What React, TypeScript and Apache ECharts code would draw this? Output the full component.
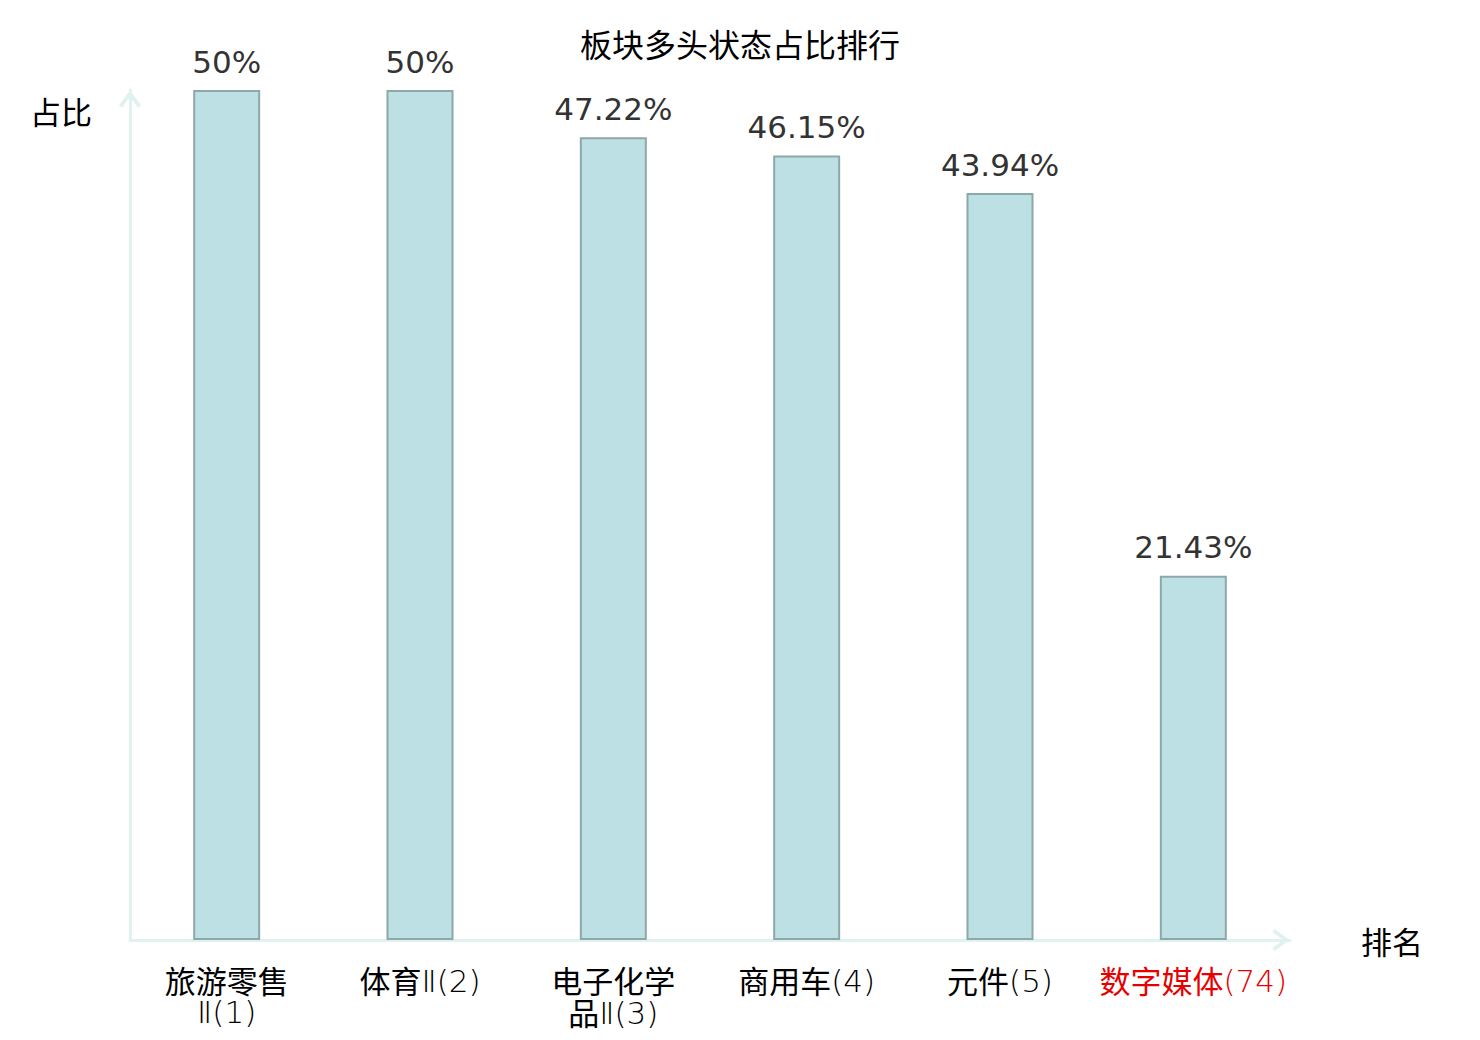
import React, { useEffect, useRef } from "react";
import * as echarts from "echarts";

const chartTitle = "板块多头状态占比排行";
const categories = ["旅游零售Ⅱ(1)", "体育Ⅱ(2)", "电子化学品Ⅱ(3)", "商用车(4)", "元件(5)", "数字媒体(74)"];
const values = [50, 50, 47.22, 46.15, 43.94, 21.43];
const highlighted = ["数字媒体(74)"];
const xName = "排名";
const yName = "占比";

const CJK = "'Noto Sans CJK SC', 'Noto Sans', sans-serif";
const LIGHT_FONT = "'DejaVu Sans', sans-serif";
const AXIS_COLOR = "#dff2ef";
const ARROW = "path://M11,0 L22,15 L19,17.5 L11,6.5 L3,17.5 L0,15 Z";
const LABEL_SIZE = 31;
const LABEL_LH = 32;

function wrapName(name: string): string {
  const idx = name.indexOf("(");
  const base = idx >= 0 ? name.slice(0, idx) : name;
  if (base.length > 4) return name.slice(0, 4) + "\n" + name.slice(4);
  return name;
}

function richLabel(name: string): string {
  const red = highlighted.includes(name);
  const suffix = red ? "r" : "";
  const lines = wrapName(name).split("\n");
  return lines
    .map((line) => {
      const parts = line.match(/[\u4e00-\u9fff]+|[^\u4e00-\u9fff]+/g) || [];
      const hasCjk = parts.some((p) => /[\u4e00-\u9fff]/.test(p));
      return parts
        .map((p) => {
          const isCjk = /[\u4e00-\u9fff]/.test(p);
          const key = isCjk ? "c" : hasCjk ? "l" : "n";
          return "{" + key + suffix + "|" + p + "}";
        })
        .join("");
    })
    .join("\n");
}

export default function App() {
  const ref = useRef<HTMLDivElement>(null);
  useEffect(() => {
    if (!ref.current) return;
    const chart = echarts.init(ref.current, undefined, { renderer: "svg" });
    const cjkTok = {
      fontSize: LABEL_SIZE,
      lineHeight: LABEL_LH,
      verticalAlign: "top",
      fontFamily: CJK,
      fontWeight: 400,
    };
    const lightTok = {
      fontSize: LABEL_SIZE,
      lineHeight: LABEL_LH - 8,
      verticalAlign: "bottom",
      fontFamily: LIGHT_FONT,
      fontWeight: 200,
    };
    const lightLineTok = {
      fontSize: LABEL_SIZE,
      lineHeight: LABEL_LH + 8,
      verticalAlign: "top",
      fontFamily: LIGHT_FONT,
      fontWeight: 200,
    };
    chart.setOption({
      animation: false,
      backgroundColor: "#ffffff",
      title: {
        text: chartTitle,
        left: "center",
        top: 22,
        textStyle: { fontFamily: CJK, fontSize: 32, fontWeight: "normal", color: "#000" },
      },
      grid: { left: 130, right: 190, top: 90, bottom: 100, containLabel: false },
      xAxis: {
        type: "category",
        data: categories,
        name: xName,
        nameLocation: "end",
        nameGap: 71,
        nameTextStyle: { fontFamily: CJK, fontSize: 31, color: "#000" },
        axisLine: {
          show: true,
          lineStyle: { color: AXIS_COLOR, width: 3 },
          symbol: ["none", ARROW],
          symbolSize: [22, 18],
          symbolOffset: [0, -9],
        },
        axisTick: { show: false },
        axisLabel: {
          interval: 0,
          fontSize: LABEL_SIZE,
          lineHeight: LABEL_LH,
          margin: 24,
          color: "#000",
          formatter: (v: string) => richLabel(v),
          rich: {
            c: { ...cjkTok, color: "#000" },
            l: { ...lightTok, color: "#000" },
            n: { ...lightLineTok, color: "#000" },
            cr: { ...cjkTok, color: "#e60000" },
            lr: { ...lightTok, color: "#e60000" },
            nr: { ...lightLineTok, color: "#e60000" },
          },
        },
      },
      yAxis: {
        type: "value",
        min: 0,
        max: 50,
        name: yName,
        nameLocation: "end",
        nameGap: -20,
        nameTextStyle: {
          fontFamily: CJK,
          fontSize: 31,
          color: "#000",
          align: "right",
          verticalAlign: "middle",
          padding: [0, 38, 0, 0],
        },
        axisLine: {
          show: true,
          lineStyle: { color: AXIS_COLOR, width: 3 },
          symbol: ["none", ARROW],
          symbolSize: [22, 18],
          symbolOffset: [0, -9],
        },
        axisTick: { show: false },
        axisLabel: { show: false },
        splitLine: { show: false },
      },
      series: [
        {
          type: "bar",
          data: values,
          barWidth: 67,
          itemStyle: { color: "#bce0e3", borderColor: "#8ea8aa", borderWidth: 2 },
          label: {
            show: true,
            position: "top",
            distance: 13,
            fontFamily: "'DejaVu Sans', sans-serif",
            fontSize: 31,
            color: "#333",
            formatter: (p: any) => p.value + "%",
          },
        },
      ],
    });
    return () => chart.dispose();
  }, []);
  return (
    <div
      ref={ref}
      style={{ position: "absolute", left: 0, top: 0, width: 1480, height: 1040 }}
    />
  );
}
